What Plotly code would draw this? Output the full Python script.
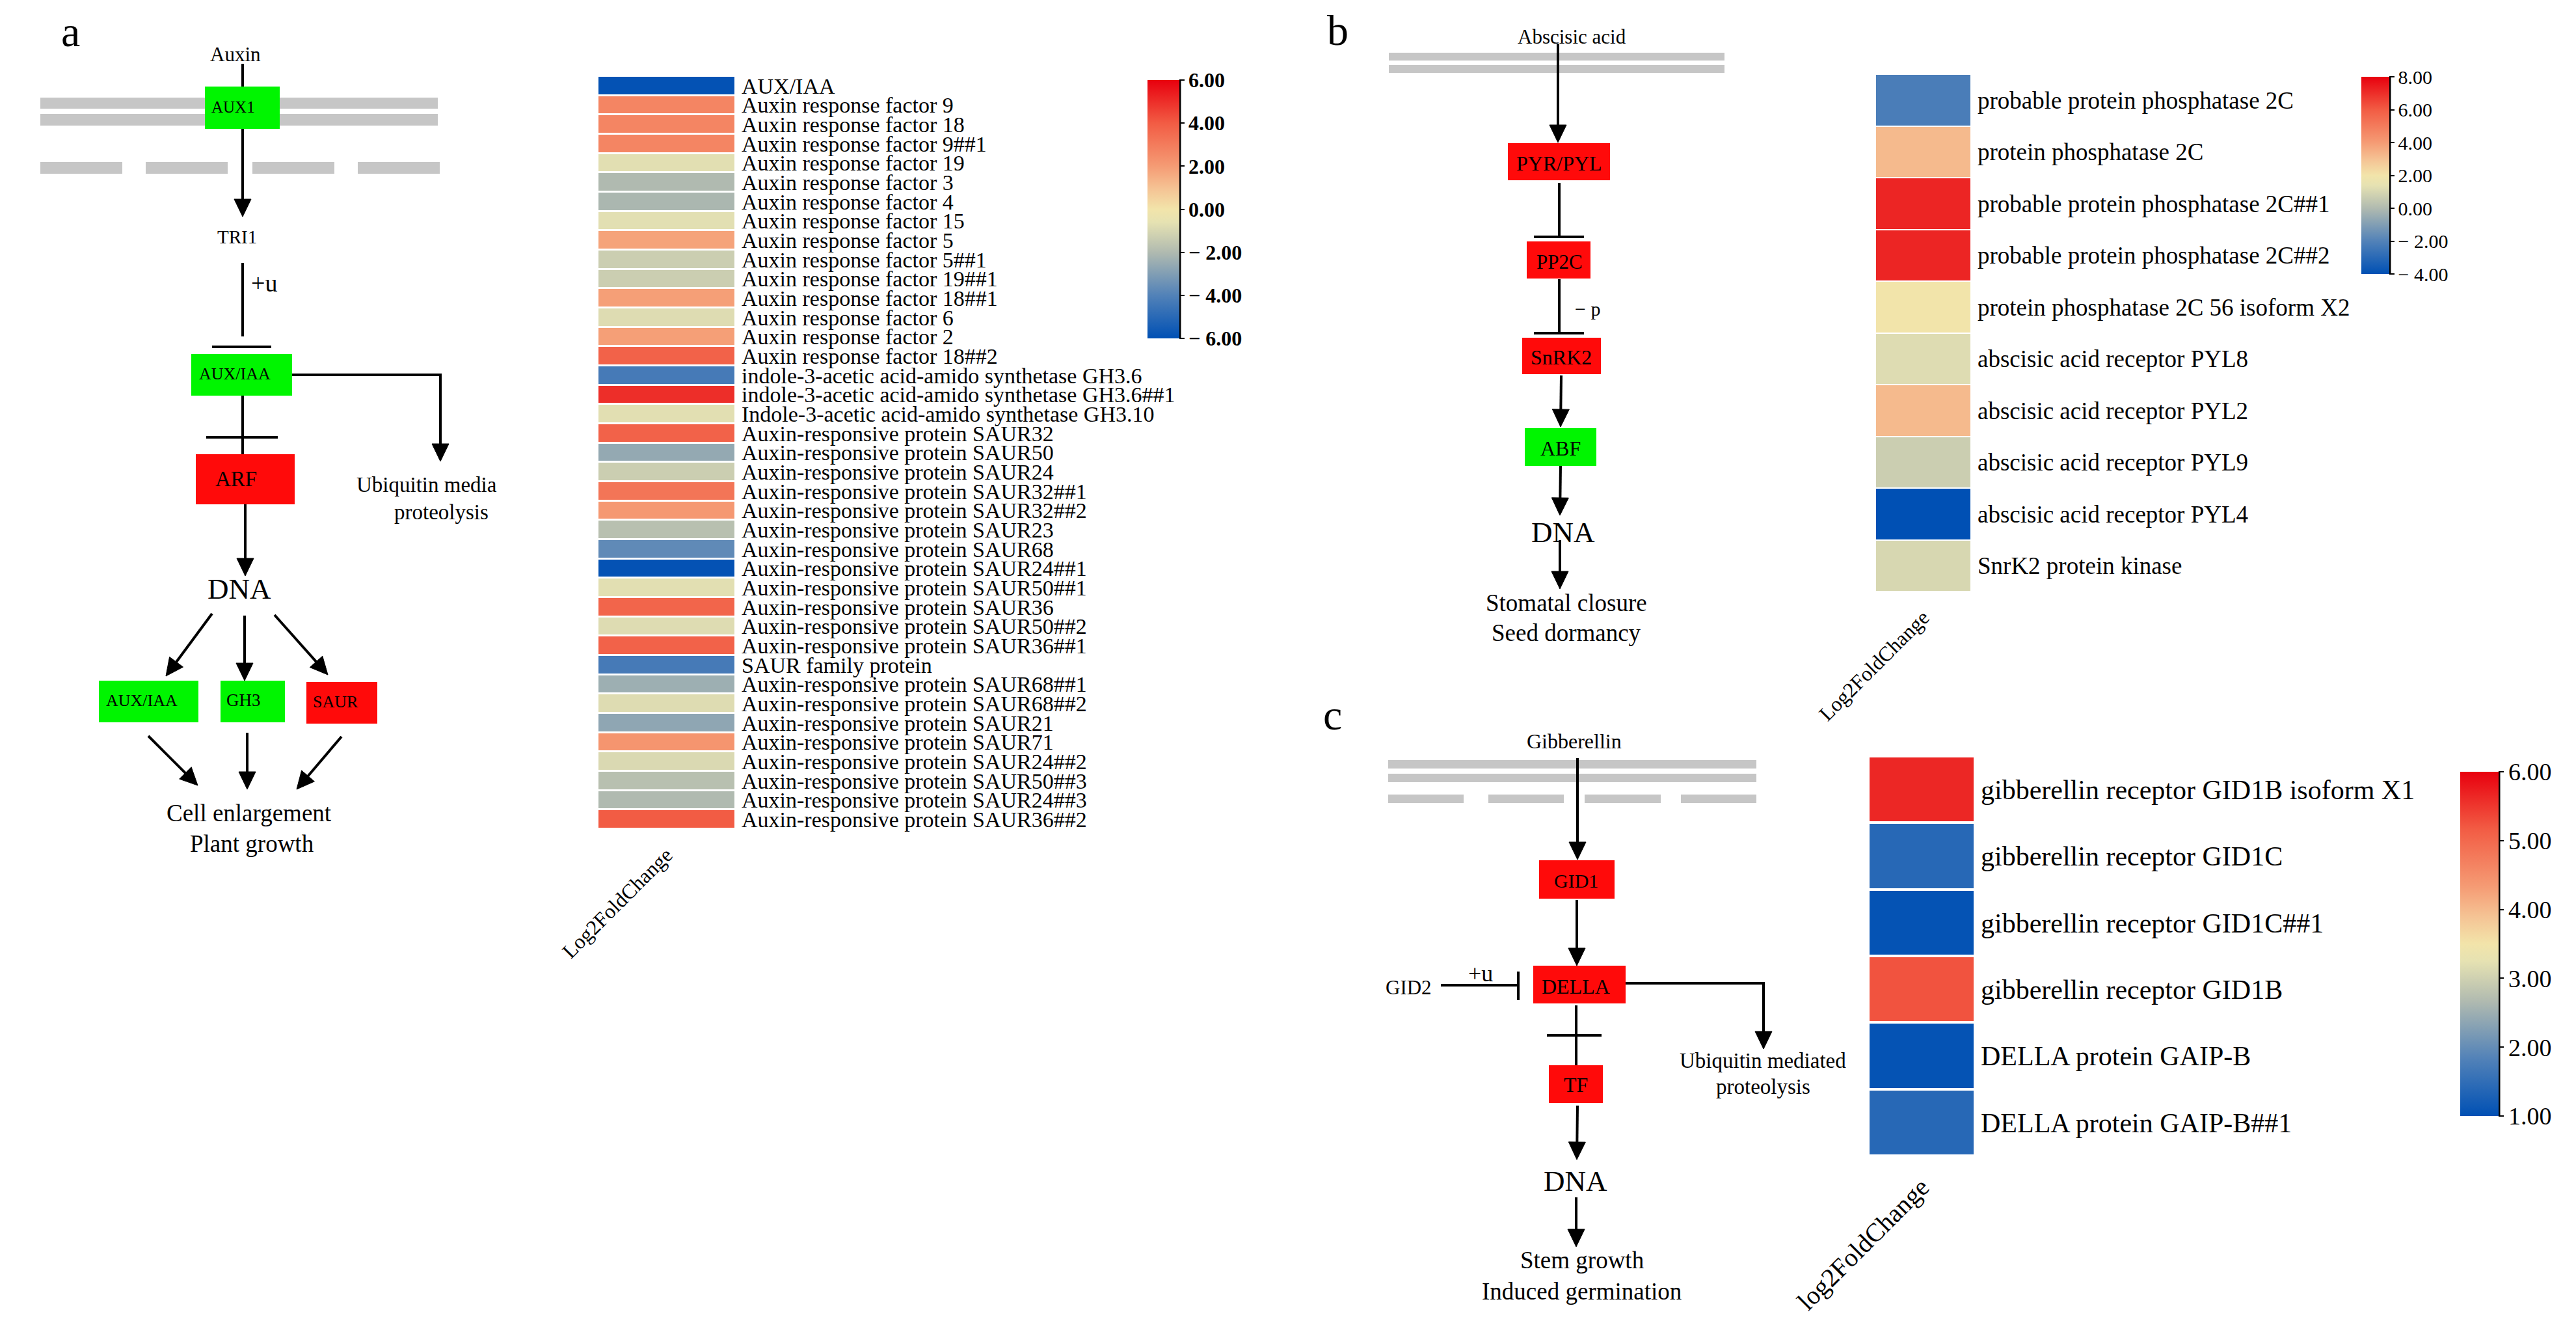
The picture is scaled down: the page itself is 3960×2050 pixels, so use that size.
import math
import plotly.graph_objects as go

W, H = 3960, 2050

# ---------------- data ----------------
a_genes = [
    "AUX/IAA", "Auxin response factor 9", "Auxin response factor 18", "Auxin response factor 9##1",
    "Auxin response factor 19", "Auxin response factor 3", "Auxin response factor 4",
    "Auxin response factor 15", "Auxin response factor 5", "Auxin response factor 5##1",
    "Auxin response factor 19##1", "Auxin response factor 18##1", "Auxin response factor 6",
    "Auxin response factor 2", "Auxin response factor 18##2",
    "indole-3-acetic acid-amido synthetase GH3.6", "indole-3-acetic acid-amido synthetase GH3.6##1",
    "Indole-3-acetic acid-amido synthetase GH3.10",
    "Auxin-responsive protein SAUR32", "Auxin-responsive protein SAUR50", "Auxin-responsive protein SAUR24",
    "Auxin-responsive protein SAUR32##1", "Auxin-responsive protein SAUR32##2",
    "Auxin-responsive protein SAUR23", "Auxin-responsive protein SAUR68",
    "Auxin-responsive protein SAUR24##1", "Auxin-responsive protein SAUR50##1",
    "Auxin-responsive protein SAUR36", "Auxin-responsive protein SAUR50##2",
    "Auxin-responsive protein SAUR36##1", "SAUR family protein",
    "Auxin-responsive protein SAUR68##1", "Auxin-responsive protein SAUR68##2",
    "Auxin-responsive protein SAUR21", "Auxin-responsive protein SAUR71",
    "Auxin-responsive protein SAUR24##2", "Auxin-responsive protein SAUR50##3",
    "Auxin-responsive protein SAUR24##3", "Auxin-responsive protein SAUR36##2",
]
a_log2fc = [
    -5.9, 2.7, 2.7, 2.7, -0.7, -2.0, -2.1, -0.7, 1.8, -1.3,
    -1.3, 1.9, -0.8, 1.9, 3.8, -4.3, 5.0, -0.7,
    3.8, -2.6, -1.3, 3.2, 2.1, -1.8, -3.7, -5.9, -0.7, 3.7, -0.8, 3.8,
    -4.3, -2.4, -0.8, -2.7, 2.2, -0.9, -1.8, -2.0, 4.0,
]
a_ticks = [6, 4, 2, 0, -2, -4, -6]

b_genes = [
    "probable protein phosphatase 2C", "protein phosphatase 2C",
    "probable protein phosphatase 2C##1", "probable protein phosphatase 2C##2",
    "protein phosphatase 2C 56 isoform X2", "abscisic acid receptor PYL8",
    "abscisic acid receptor PYL2", "abscisic acid receptor PYL9",
    "abscisic acid receptor PYL4", "SnrK2 protein kinase",
]
b_log2fc = [-2.2, 3.2, 7.2, 7.2, 2.0, 1.2, 3.2, 0.7, -4.0, 1.0]
b_ticks = [8, 6, 4, 2, 0, -2, -4]

c_genes = [
    "gibberellin receptor GID1B isoform X1", "gibberellin receptor GID1C",
    "gibberellin receptor GID1C##1", "gibberellin receptor GID1B",
    "DELLA protein GAIP-B", "DELLA protein GAIP-B##1",
]
c_log2fc = [5.65, 1.4, 1.05, 5.25, 1.05, 1.4]
c_ticks = [6, 5, 4, 3, 2, 1]

# ---------------- styles ----------------
SERIF = "Liberation Serif, Times New Roman, serif"
GREEN = "#00f500"
RED = "#ff0a0a"
GREY = "#c6c6c6"
cscale = [[0.0, "#0050b4"], [0.167, "#5282b8"], [0.333, "#b0bab0"], [0.45, "#e6e2b2"],
          [0.5, "#f2e4aa"], [0.58, "#f5c394"], [0.667, "#f59b74"], [0.833, "#f25c44"],
          [1.0, "#e8000e"]]


def fx(x):
    return x / W


def fy(y):
    return 1 - y / H


def fmt(v):
    return f"{v:.2f}" if v >= 0 else "\u2212 " + f"{-v:.2f}"


# ---------------- diagram layout (pixel coordinates) ----------------
membranes = [
    (62, 150, 673, 167), (62, 175, 673, 193),
    (62, 249, 188, 267), (224, 249, 350, 267), (388, 249, 514, 267), (550, 249, 676, 267),
    (2135, 81, 2651, 93), (2135, 100, 2651, 112),
    (2134, 1168, 2700, 1181), (2134, 1189, 2700, 1202),
    (2134, 1221, 2250, 1234), (2288, 1221, 2404, 1234), (2436, 1221, 2553, 1234), (2584, 1221, 2700, 1234),
]

boxes = [
    (315, 133, 430, 198, GREEN, "AUX1", 358, 164, 25),
    (294, 544, 449, 608, GREEN, "AUX/IAA", 361, 574, 26),
    (301, 698, 453, 775, RED, "ARF", 363, 736, 33),
    (152, 1046, 305, 1110, GREEN, "AUX/IAA", 218, 1076, 26),
    (339, 1046, 438, 1110, GREEN, "GH3", 374, 1076, 27),
    (471, 1048, 580, 1112, RED, "SAUR", 516, 1078, 26),
    (2318, 220, 2475, 277, RED, "PYR/PYL", 2397, 251, 32),
    (2347, 371, 2445, 428, RED, "PP2C", 2397, 402, 31),
    (2340, 519, 2461, 575, RED, "SnRK2", 2400, 549, 32),
    (2344, 658, 2454, 716, GREEN, "ABF", 2399, 689, 32),
    (2366, 1322, 2482, 1381, RED, "GID1", 2423, 1353, 30),
    (2357, 1484, 2499, 1542, RED, "DELLA", 2422, 1516, 32),
    (2381, 1637, 2464, 1695, RED, "TF", 2422, 1667, 32),
]

plain_lines = [
    [(373, 98), (373, 133)],
    [(373, 404), (373, 517)], [(326, 533), (417, 533)],
    [(373, 608), (373, 698)], [(317, 672), (427, 672)],
    [(2397, 281), (2397, 364)], [(2358, 364), (2435, 364)],
    [(2397, 429), (2397, 512)], [(2358, 512), (2435, 512)],
    [(2215, 1514), (2334, 1514)], [(2334, 1493), (2334, 1537)],
    [(2423, 1545), (2423, 1637)], [(2378, 1591), (2462, 1591)],
]

arrows = [
    [(373, 198), (373, 333)],
    [(449, 576), (677, 576), (677, 709)],
    [(377, 775), (377, 885)],
    [(326, 943), (255, 1039)], [(376, 946), (376, 1046)], [(422, 945), (504, 1037)],
    [(228, 1131), (304, 1207)], [(380, 1126), (380, 1213)], [(525, 1132), (456, 1213)],
    [(2395, 67), (2395, 219)],
    [(2400, 577), (2399, 656)],
    [(2399, 716), (2398, 792)],
    [(2398, 830), (2398, 905)],
    [(2425, 1165), (2425, 1321)],
    [(2424, 1383), (2424, 1484)],
    [(2499, 1511), (2711, 1511), (2711, 1612)],
    [(2425, 1699), (2424, 1782)],
    [(2423, 1840), (2423, 1916)],
]

texts = [
    (108, 48, "a", 66), (2056, 46, "b", 66), (2048, 1098, "c", 66),
    (362, 83, "Auxin", 31), (364, 364, "TRI1", 29), (406, 435, "+u", 38),
    (656, 745, "Ubiquitin media", 33), (678, 787, "proteolysis", 33),
    (368, 905, "DNA", 45), (383, 1249, "Cell enlargement", 37), (387, 1296, "Plant growth", 37),
    (2416, 56, "Abscisic acid", 31), (2440, 474, "\u2212 p", 30),
    (2403, 818, "DNA", 45), (2408, 926, "Stomatal closure", 37), (2408, 972, "Seed dormancy", 37),
    (2420, 1139, "Gibberellin", 32), (2165, 1517, "GID2", 31), (2276, 1496, "+u", 36),
    (2710, 1630, "Ubiquitin mediated", 33), (2710, 1670, "proteolysis", 33),
    (2422, 1815, "DNA", 45), (2432, 1936, "Stem growth", 37), (2431, 1984, "Induced germination", 37),
]

LW = 4
HEAD_L, HEAD_W = 27, 13

shapes = []
for (x0, y0, x1, y1) in membranes:
    shapes.append(dict(type="rect", xref="x", yref="y", x0=x0, y0=y0, x1=x1, y1=y1,
                       fillcolor=GREY, line=dict(width=0), layer="above"))
for (x0, y0, x1, y1, col, *_r) in boxes:
    shapes.append(dict(type="rect", xref="x", yref="y", x0=x0, y0=y0, x1=x1, y1=y1,
                       fillcolor=col, line=dict(width=0), layer="above"))


def path_of(pts):
    return "M " + " L ".join(f"{x},{y}" for x, y in pts)


for pts in plain_lines:
    shapes.append(dict(type="path", xref="x", yref="y", path=path_of(pts),
                       line=dict(color="black", width=LW), layer="above"))
for pts in arrows:
    (xa, ya), (xb, yb) = pts[-2], pts[-1]
    d = math.hypot(xb - xa, yb - ya)
    ux, uy = (xb - xa) / d, (yb - ya) / d
    bx, by = xb - HEAD_L * ux, yb - HEAD_L * uy
    px, py = -uy, ux
    line_pts = pts[:-1] + [(bx, by)]
    shapes.append(dict(type="path", xref="x", yref="y", path=path_of(line_pts),
                       line=dict(color="black", width=LW), layer="above"))
    tri = (f"M {xb},{yb} L {bx + HEAD_W * px},{by + HEAD_W * py} "
           f"L {bx - HEAD_W * px},{by - HEAD_W * py} Z")
    shapes.append(dict(type="path", xref="x", yref="y", path=tri, fillcolor="black",
                       line=dict(color="black", width=1), layer="above"))

annotations = []
for (x, y, t, s) in texts:
    annotations.append(dict(x=x, y=y, xref="x", yref="y", text=t, showarrow=False,
                            xanchor="center", yanchor="middle",
                            font=dict(family=SERIF, size=s, color="black")))
for (x0, y0, x1, y1, col, lab, tx, ty, s) in boxes:
    annotations.append(dict(x=tx, y=ty, xref="x", yref="y", text=lab, showarrow=False,
                            xanchor="center", yanchor="middle",
                            font=dict(family=SERIF, size=s, color="black")))

# ---------------- heatmaps ----------------
panels = [
    dict(genes=a_genes, vals=a_log2fc, ticks=a_ticks, zmin=-6, zmax=6,
         box=(920, 117, 1129, 1274), cbar=(1764, 123, 1813, 520), lsize=34,
         xlab="Log2FoldChange", xsize=32, ygap=3, cfs=32, bold=True, standoff=14),
    dict(genes=b_genes, vals=b_log2fc, ticks=b_ticks, zmin=-4, zmax=8,
         box=(2884, 114, 3029, 909), cbar=(3630, 118, 3673, 421), lsize=37,
         xlab="Log2FoldChange", xsize=32, ygap=2, cfs=30, bold=False, standoff=14),
    dict(genes=c_genes, vals=c_log2fc, ticks=c_ticks, zmin=1, zmax=6,
         box=(2874, 1162, 3034, 1776), cbar=(3782, 1186, 3841, 1715), lsize=42,
         xlab="log2FoldChange", xsize=40, ygap=4, cfs=38, bold=False, standoff=16),
]

fig = go.Figure()
layout_axes = {}
for i, p in enumerate(panels, start=2):
    x0, y0, x1, y1 = p["box"]
    cx0, cy0, cx1, cy1 = p["cbar"]
    tf = dict(family=SERIF, size=p["cfs"], color="black")
    if p["bold"]:
        tf["weight"] = "bold"
    fig.add_trace(go.Heatmap(
        z=[[v] for v in p["vals"]], x=[p["xlab"]], y=p["genes"],
        xaxis=f"x{i}", yaxis=f"y{i}", colorscale=cscale, zmin=p["zmin"], zmax=p["zmax"],
        ygap=p["ygap"], hoverinfo="skip",
        colorbar=dict(x=fx(cx0), xanchor="left", xpad=0, y=fy(cy0), yanchor="top", ypad=0,
                      len=(cy1 - cy0) / H, lenmode="fraction", thickness=cx1 - cx0,
                      thicknessmode="pixels", outlinewidth=0,
                      tickvals=p["ticks"], ticktext=[fmt(v) for v in p["ticks"]],
                      ticks="outside", ticklen=8, tickwidth=2, tickcolor="black",
                      tickfont=tf)))
    layout_axes[f"xaxis{i}"] = dict(domain=[fx(x0), fx(x1)], anchor=f"y{i}", tickangle=-45,
                                    showgrid=False, zeroline=False, showline=False, ticks="",
                                    ticklabelstandoff=p["standoff"], automargin=False,
                                    tickfont=dict(family=SERIF, size=p["xsize"], color="black"))
    layout_axes[f"yaxis{i}"] = dict(domain=[fy(y1), fy(y0)], anchor=f"x{i}", side="right",
                                    autorange="reversed", type="category", showgrid=False,
                                    zeroline=False, showline=False, ticks="",
                                    tickmode="array", tickvals=p["genes"], ticktext=p["genes"],
                                    ticklabelstandoff=10, automargin=False,
                                    tickfont=dict(family=SERIF, size=p["lsize"], color="black"))
    shapes.append(dict(type="line", xref="x", yref="y", x0=cx1 + 1, x1=cx1 + 1, y0=cy0, y1=cy1,
                       line=dict(color="black", width=3), layer="above"))

fig.update_layout(
    width=W, height=H, margin=dict(l=0, r=0, t=0, b=0, pad=0, autoexpand=False),
    paper_bgcolor="white", plot_bgcolor="rgba(0,0,0,0)", showlegend=False,
    xaxis=dict(domain=[0, 1], range=[0, W], visible=False, fixedrange=True),
    yaxis=dict(domain=[0, 1], range=[H, 0], visible=False, fixedrange=True),
    shapes=shapes, annotations=annotations, **layout_axes,
)
fig.add_trace(go.Scatter(x=[0, W], y=[0, H], mode="markers", marker=dict(opacity=0),
                         hoverinfo="skip", xaxis="x", yaxis="y"))

fig.write_html("out.html", config={"displayModeBar": False},
               post_script="document.body.style.margin='0';document.body.style.overflow='hidden';")
